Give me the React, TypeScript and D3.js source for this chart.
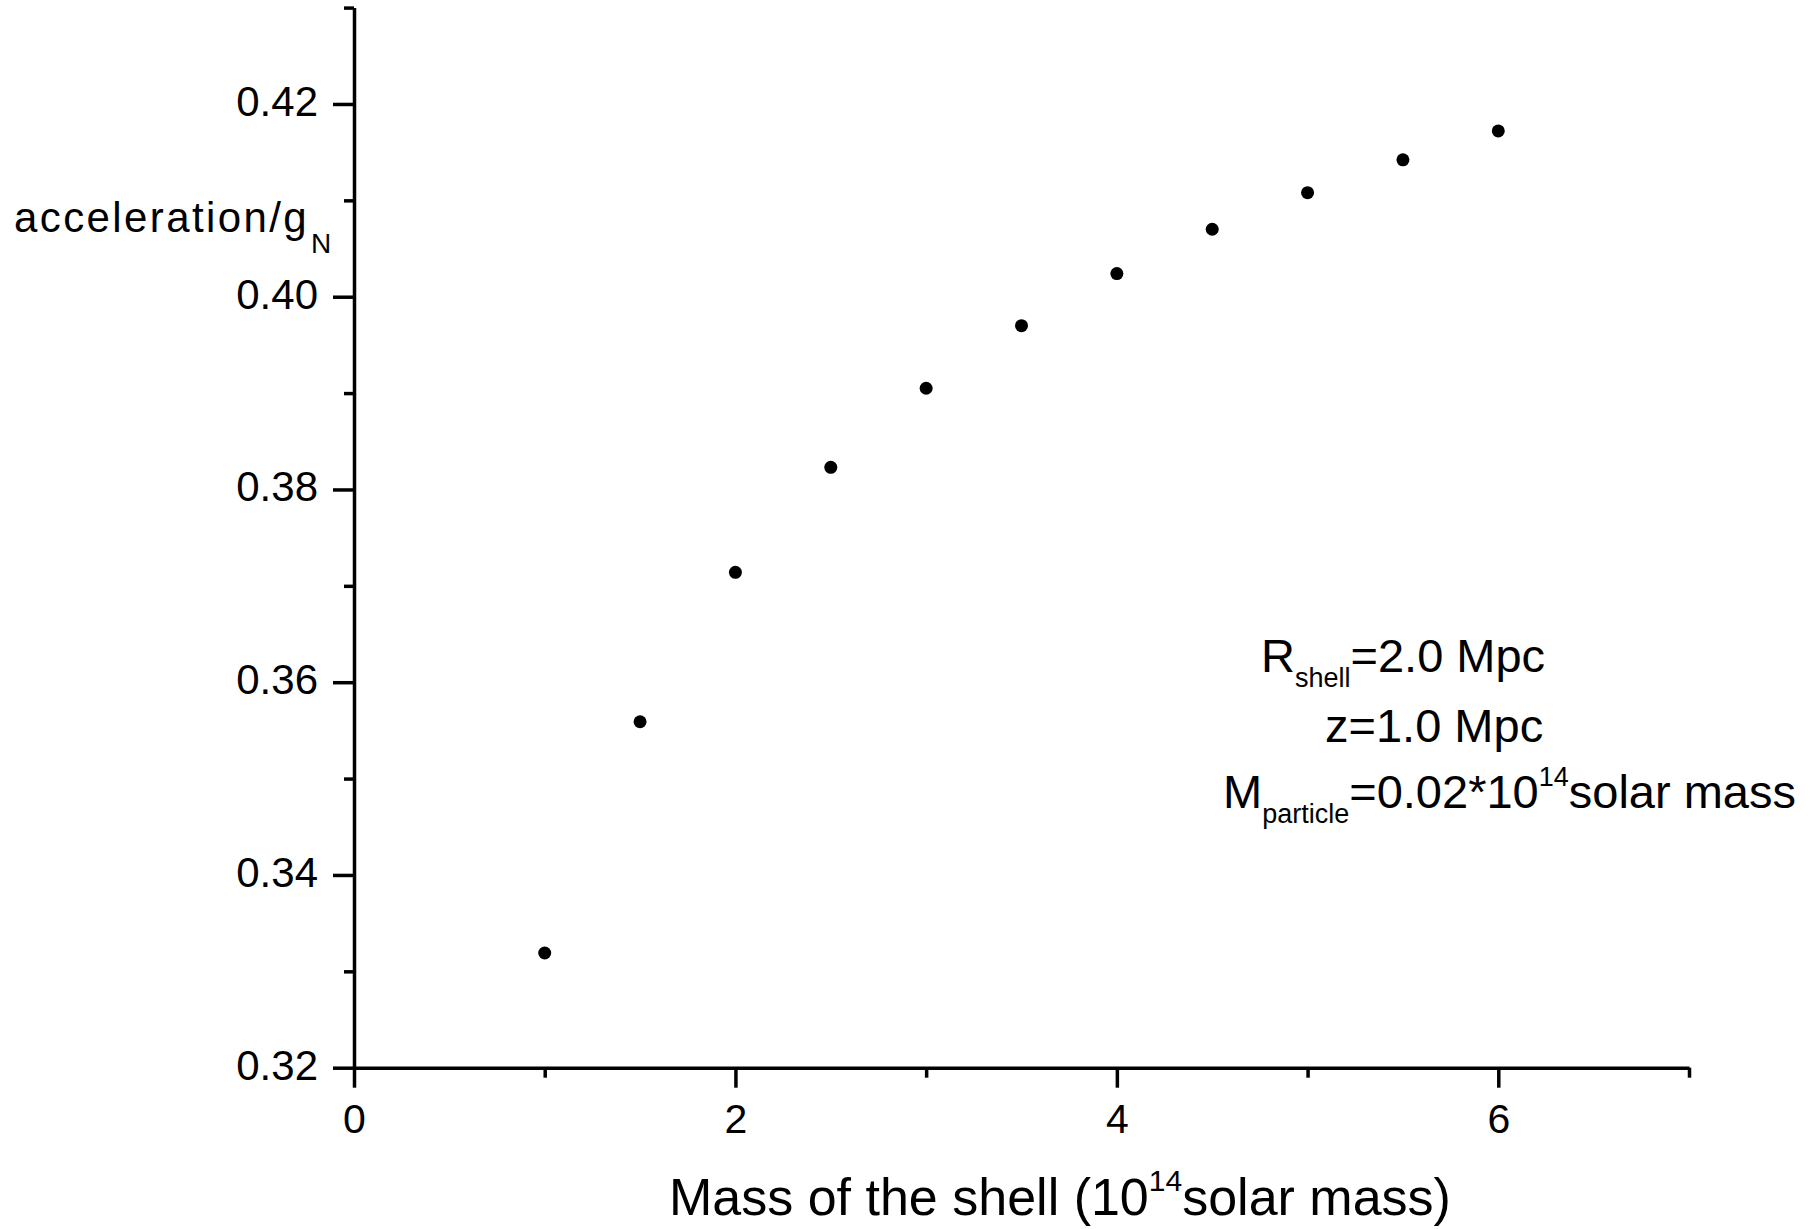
import React, { useRef, useEffect } from 'react'
import * as d3 from 'd3'

// shell mass (10^14 solar mass) vs acceleration / g_N
const shellMass = [1, 1.5, 2, 2.5, 3, 3.5, 4, 4.5, 5, 5.5, 6]
const accelRatio = [0.3319, 0.3559, 0.3714, 0.3823, 0.3905, 0.397, 0.4024, 0.407, 0.4108, 0.4142, 0.4172]

const xMajorTicks = [0, 2, 4, 6]
const xMinorTicks = [1, 3, 5, 7]
const yMajorTicks = [0.32, 0.34, 0.36, 0.38, 0.4, 0.42]
const yMinorTicks = [0.33, 0.35, 0.37, 0.39, 0.41, 0.43]

const FONT = '"Liberation Sans", Arial, sans-serif'

export default function App() {
  const svgRef = useRef<SVGSVGElement | null>(null)

  useEffect(() => {
    const width = 1818
    const height = 1229
    const left = 354
    const right = 1689
    const top = 7.6
    const bottom = 1067.7

    const svg = d3.select(svgRef.current)
    svg.selectAll('*').remove()
    svg.attr('width', width).attr('height', height)

    svg.append('rect').attr('width', width).attr('height', height).attr('fill', '#fff')

    const x = d3.scaleLinear().domain([0, 7]).range([left, right])
    const y = d3.scaleLinear().domain([0.32, 0.43]).range([bottom, top])

    const styleAxis = (g: any) => {
      g.selectAll('path.domain').attr('stroke', '#000').attr('stroke-width', 3.5)
      g.selectAll('.tick line').attr('stroke', '#000').attr('stroke-width', 3.5)
      g.selectAll('.tick text')
        .attr('fill', '#000')
        .attr('font-family', FONT)
        .attr('font-size', 41)
    }

    // minor ticks first, then major axis with the domain line
    svg.append('g')
      .attr('transform', `translate(0,${bottom})`)
      .call(d3.axisBottom(x).tickValues(xMinorTicks).tickSize(10).tickSizeOuter(0).tickFormat(() => ''))
      .call(g => g.select('.domain').remove())
      .call(styleAxis)

    svg.append('g')
      .attr('transform', `translate(${left},0)`)
      .call(d3.axisLeft(y).tickValues(yMinorTicks).tickSize(10).tickSizeOuter(0).tickFormat(() => ''))
      .call(g => g.select('.domain').remove())
      .call(styleAxis)

    const xAxis = svg.append('g')
      .attr('transform', `translate(0,${bottom})`)
      .call(d3.axisBottom(x).tickValues(xMajorTicks).tickSize(20).tickSizeOuter(0).tickFormat(d3.format('d')))
      .call(styleAxis)
    xAxis.selectAll('.tick text').attr('y', 65).attr('dy', 0)

    const yAxis = svg.append('g')
      .attr('transform', `translate(${left},0)`)
      .call(d3.axisLeft(y).tickValues(yMajorTicks).tickSize(21).tickSizeOuter(0).tickFormat(d3.format('.2f')))
      .call(styleAxis)
    yAxis.selectAll('.tick text').attr('x', -36).attr('dy', '0.27em').attr('font-size', 42)

    // points
    svg.append('g')
      .selectAll('circle')
      .data(shellMass)
      .enter()
      .append('circle')
      .attr('cx', d => x(d))
      .attr('cy', (d, i) => y(accelRatio[i]))
      .attr('r', 6.5)
      .attr('fill', '#000')

    // y axis label
    const yLab = svg.append('text')
      .attr('x', 14)
      .attr('y', 232)
      .attr('font-family', FONT)
      .attr('font-size', 42)
      .attr('letter-spacing', 2.4)
      .attr('fill', '#000')
    yLab.append('tspan').text('acceleration/g')
    yLab.append('tspan').attr('dx', 2).attr('dy', 21).attr('font-size', 28).attr('letter-spacing', 0).text('N')

    // x axis label
    const xLab = svg.append('text')
      .attr('x', 669)
      .attr('y', 1215)
      .attr('font-family', FONT)
      .attr('font-size', 52)
      .attr('fill', '#000')
    xLab.append('tspan').text('Mass of the shell (10')
    xLab.append('tspan').attr('dy', -24).attr('font-size', 30).text('14')
    xLab.append('tspan').attr('dy', 24).text('solar mass)')

    // annotation
    const note = svg.append('g')
      .attr('font-family', FONT)
      .attr('font-size', 47)
      .attr('fill', '#000')

    const l1 = note.append('text').attr('x', 1261).attr('y', 672)
    l1.append('tspan').text('R')
    l1.append('tspan').attr('dy', 15).attr('font-size', 27).text('shell')
    l1.append('tspan').attr('dy', -15).text('=2.0 Mpc')

    note.append('text').attr('x', 1325).attr('y', 742).text('z=1.0 Mpc')

    const l3 = note.append('text').attr('x', 1223).attr('y', 808)
    l3.append('tspan').text('M')
    l3.append('tspan').attr('dy', 15).attr('font-size', 27).text('particle')
    l3.append('tspan').attr('dy', -15).text('=0.02*10')
    l3.append('tspan').attr('dy', -22).attr('font-size', 27).text('14')
    l3.append('tspan').attr('dy', 22).text('solar mass')
  }, [])

  return (
    <svg
      ref={svgRef}
      style={{ position: 'absolute', left: 0, top: 0, display: 'block' }}
    />
  )
}
